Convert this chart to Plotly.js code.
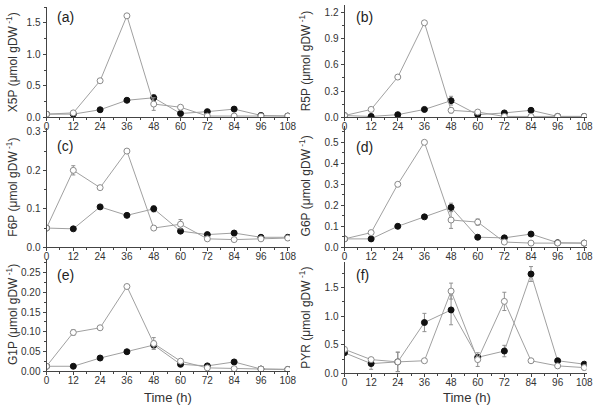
<!DOCTYPE html>
<html>
<head>
<meta charset="utf-8">
<script src="https://cdn.plot.ly/plotly-3.0.1.min.js"></script>
<style>html,body{margin:0;padding:0;background:#fff;}#chart{width:596px;height:405px;}</style>
</head>
<body>
<div id="chart"></div>
<script>
// Time points (h)
const time = [0, 12, 24, 36, 48, 60, 72, 84, 96, 108];

// (a) X5P
const x5pOpen   = [0.05, 0.07, 0.58, 1.61, 0.21, 0.16, 0.02, 0.02, 0.02, 0.02];
const x5pOpenErr= [0, 0, 0, 0, 0.1, 0, 0, 0, 0, 0];
const x5pFill   = [0.05, 0.05, 0.12, 0.27, 0.31, 0.06, 0.09, 0.13, 0.03, 0.02];
const x5pFillErr= [0, 0, 0, 0, 0.05, 0, 0, 0, 0, 0];

// (b) R5P
const r5pOpen   = [0.02, 0.09, 0.46, 1.08, 0.08, 0.06, 0.01, 0.01, 0.01, 0.01];
const r5pOpenErr= [0, 0, 0, 0, 0.03, 0, 0, 0, 0, 0];
const r5pFill   = [0.02, 0.01, 0.03, 0.09, 0.19, 0.03, 0.05, 0.08, 0.01, 0.01];
const r5pFillErr= [0, 0, 0, 0, 0.05, 0, 0, 0, 0, 0];

// (c) F6P
const f6pOpen   = [0.05, 0.2, 0.155, 0.25, 0.05, 0.06, 0.022, 0.02, 0.022, 0.024];
const f6pOpenErr= [0, 0.012, 0, 0, 0, 0.012, 0, 0, 0, 0];
const f6pFill   = [0.05, 0.048, 0.105, 0.083, 0.1, 0.042, 0.033, 0.037, 0.026, 0.026];
const f6pFillErr= [0, 0, 0, 0, 0.008, 0.005, 0, 0, 0, 0];

// (d) G6P
const g6pOpen   = [0.04, 0.07, 0.3, 0.5, 0.13, 0.12, 0.025, 0.02, 0.02, 0.02];
const g6pOpenErr= [0, 0, 0, 0, 0.04, 0.015, 0, 0, 0, 0];
const g6pFill   = [0.04, 0.04, 0.1, 0.145, 0.19, 0.048, 0.045, 0.063, 0.022, 0.02];
const g6pFillErr= [0, 0, 0, 0, 0.02, 0, 0, 0, 0, 0];

// (e) G1P
const g1pOpen   = [0.012, 0.098, 0.11, 0.215, 0.07, 0.025, 0.008, 0.006, 0.005, 0.004];
const g1pOpenErr= [0, 0.007, 0, 0, 0.015, 0, 0, 0, 0, 0];
const g1pFill   = [0.012, 0.012, 0.033, 0.049, 0.066, 0.017, 0.013, 0.023, 0.005, 0.004];
const g1pFillErr= [0, 0, 0, 0, 0.01, 0, 0, 0, 0, 0];

// (f) PYR
const pyrOpen   = [0.42, 0.24, 0.2, 0.22, 1.44, 0.24, 1.26, 0.22, 0.13, 0.1];
const pyrOpenErr= [0, 0, 0.17, 0, 0.14, 0.12, 0.16, 0, 0, 0];
const pyrFill   = [0.36, 0.17, 0.2, 0.89, 1.11, 0.28, 0.39, 1.74, 0.22, 0.16];
const pyrFillErr= [0, 0.1, 0.17, 0.16, 0.26, 0.05, 0.1, 0.13, 0, 0];

// Axis titles and panel labels
const yTitles = ['X5P', 'R5P', 'F6P', 'G6P', 'G1P', 'PYR'];
const panelLabels = ['(a)', '(b)', '(c)', '(d)', '(e)', '(f)'];
const xTicks = [0, 12, 24, 36, 48, 60, 72, 84, 96, 108];
const xTitle = 'Time (h)';

const panels = [
  {open: x5pOpen, openErr: x5pOpenErr, fill: x5pFill, fillErr: x5pFillErr},
  {open: r5pOpen, openErr: r5pOpenErr, fill: r5pFill, fillErr: r5pFillErr},
  {open: f6pOpen, openErr: f6pOpenErr, fill: f6pFill, fillErr: f6pFillErr},
  {open: g6pOpen, openErr: g6pOpenErr, fill: g6pFill, fillErr: g6pFillErr},
  {open: g1pOpen, openErr: g1pOpenErr, fill: g1pFill, fillErr: g1pFillErr},
  {open: pyrOpen, openErr: pyrOpenErr, fill: pyrFill, fillErr: pyrFillErr}
];

// layout geometry (pixels -> paper)
const W = 596, H = 405;
const xDomL = [46.5 / W, 290 / W];
const xDomR = [344.5 / W, 586.5 / W];
const yDom = [
  [1 - 117.3 / H, 1 - 7 / H],
  [1 - 117.3 / H, 1 - 5.3 / H],
  [1 - 247.3 / H, 1 - 128 / H],
  [1 - 247.3 / H, 1 - 125.5 / H],
  [1 - 371 / H, 1 - 259 / H],
  [1 - 373.3 / H, 1 - 262 / H]
];
const yRanges = [[0, 1.75], [0, 1.28], [0, 0.31], [0, 0.58], [0, 0.285], [0, 1.95]];
const yDticks = [0.5, 0.3, 0.1, 0.1, 0.05, 0.5];
const yFormats = ['.1f', '.1f', '.1f', '.1f', '.2f', '.1f'];

const lineCol = '#a0a0a0';
const traces = [];
const layout = {
  width: W, height: H,
  margin: {l: 0, r: 0, t: 0, b: 0},
  paper_bgcolor: '#fff', plot_bgcolor: 'rgba(0,0,0,0)',
  showlegend: false,
  font: {family: 'Liberation Sans, Arial, sans-serif', size: 10, color: '#333'},
  annotations: []
};

panels.forEach((p, i) => {
  const n = i + 1;
  const xa = 'x' + (n === 1 ? '' : n);
  const ya = 'y' + (n === 1 ? '' : n);
  const errStyle = (arr) => ({type: 'data', array: arr, visible: true, color: '#909090', thickness: 1, width: 2});
  traces.push({
    x: time, y: p.fill, xaxis: xa, yaxis: ya, type: 'scatter', mode: 'lines+markers',
    line: {color: lineCol, width: 1},
    marker: {symbol: 'circle', size: 6, color: '#111', line: {color: '#111', width: 1}},
    error_y: errStyle(p.fillErr)
  });
  traces.push({
    x: time, y: p.open, xaxis: xa, yaxis: ya, type: 'scatter', mode: 'lines+markers',
    line: {color: lineCol, width: 1},
    marker: {symbol: 'circle', size: 6, color: '#fff', line: {color: '#8a8a8a', width: 1}},
    error_y: errStyle(p.openErr)
  });
  const left = (i % 2 === 0);
  const xKey = 'xaxis' + (n === 1 ? '' : n);
  const yKey = 'yaxis' + (n === 1 ? '' : n);
  layout[xKey] = {
    domain: left ? xDomL : xDomR, anchor: ya, range: [0, 109],
    tickvals: xTicks, ticks: 'outside', ticklen: 3, tickwidth: 1, tickcolor: '#444',
    ticklabelstandoff: -3,
    minor: {dtick: 6, tick0: 0, ticks: 'outside', ticklen: 2, tickcolor: '#444'},
    showline: true, linecolor: '#444', linewidth: 1, showgrid: false, zeroline: false,
    tickfont: {size: 10, color: '#333'}, automargin: false
  };
  layout[yKey] = {
    domain: yDom[i], anchor: xa, range: yRanges[i], dtick: yDticks[i], tick0: 0,
    tickformat: yFormats[i], ticks: 'outside', ticklen: 3, tickwidth: 1, tickcolor: '#444',
    minor: {dtick: yDticks[i] / 2, ticks: 'outside', ticklen: 2, tickcolor: '#444'},
    showline: true, linecolor: '#444', linewidth: 1, showgrid: false, zeroline: false,
    tickfont: {size: 10, color: '#333'}, automargin: false
  };
  // y axis title
  layout.annotations.push({
    xref: 'paper', yref: 'paper',
    x: (left ? 12 : 305) / W, y: (yDom[i][0] + yDom[i][1]) / 2,
    text: yTitles[i] + ' (\u03bcmol gDW<sup> -1</sup>)', textangle: -90, showarrow: false,
    xanchor: 'center', yanchor: 'middle', font: {size: 12, color: '#333'}
  });
  // panel label
  layout.annotations.push({
    xref: 'paper', yref: 'paper',
    x: (left ? 55 : 354) / W, y: 1 - ([17, 17, 146, 147, 275, 275][i]) / H,
    text: panelLabels[i], showarrow: false, xanchor: 'left', yanchor: 'middle',
    font: {size: 14, color: '#222'}
  });
});

// x axis titles
[168, 467].forEach((px) => {
  layout.annotations.push({
    xref: 'paper', yref: 'paper', x: px / W, y: 1 - 397 / H, text: xTitle, showarrow: false,
    xanchor: 'center', yanchor: 'middle', font: {size: 13, color: '#333'}
  });
});

Plotly.newPlot('chart', traces, layout, {displayModeBar: false, staticPlot: true});
</script>
</body>
</html>
